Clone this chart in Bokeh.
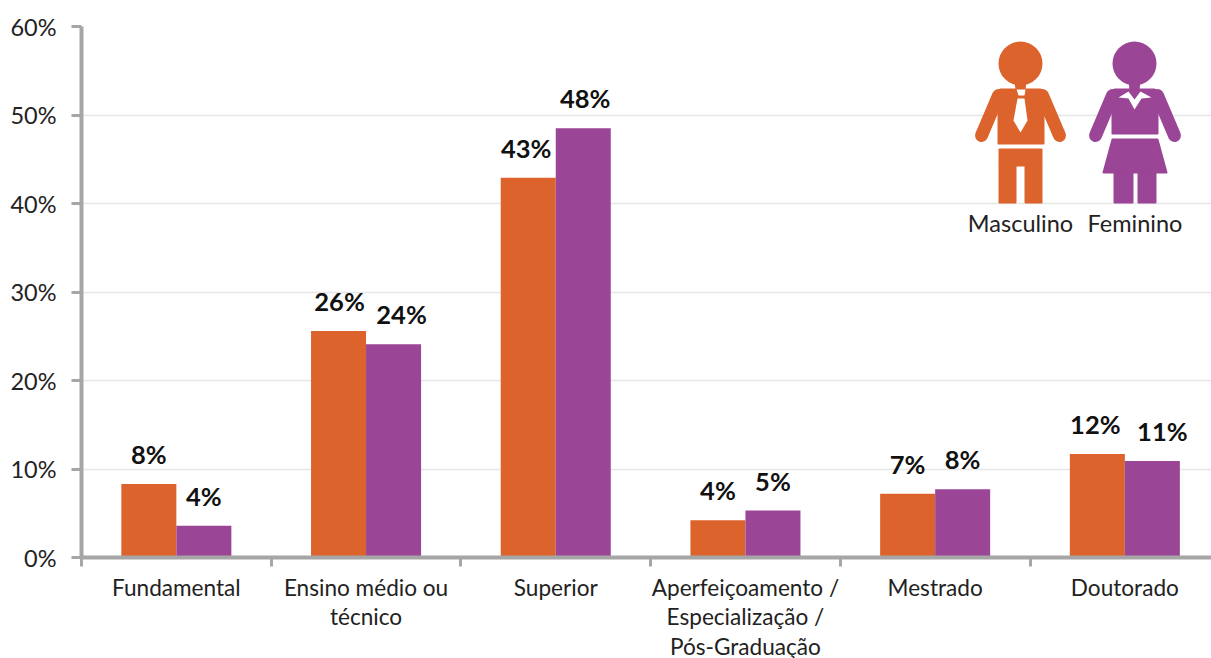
from bokeh.core.properties import value
from bokeh.embed import file_html
from bokeh.models import ColumnDataSource, FixedTicker, Range1d
from bokeh.plotting import figure
from bokeh.resources import INLINE

# Highest schooling level by sex, in percent
categories = [
    "Fundamental",
    "Ensino médio ou\ntécnico",
    "Superior",
    "Aperfeiçoamento /\nEspecialização /\nPós-Graduação",
    "Mestrado",
    "Doutorado",
]
masculino = [8.3, 25.6, 42.9, 4.2, 7.2, 11.7]
feminino = [3.6, 24.1, 48.49, 5.3, 7.7, 10.9]
y_ticks = [0, 10, 20, 30, 40, 50, 60]

ORANGE = "#dc632c"
PURPLE = "#9b4596"
FONT = "Lato"
AXIS_GRAY = "#a6a6a6"
TEXT = "#222222"

LEFT, TOP, FRAME_W, FRAME_H = 81, 26, 1130, 531
CAT_W = 189.7
BAR_W = 0.29

p = figure(
    width=1211, height=658, output_backend="svg", toolbar_location=None,
    x_range=Range1d(0, FRAME_W / CAT_W), y_range=Range1d(0, 60),
    min_border_left=LEFT, min_border_right=0, min_border_top=TOP, min_border_bottom=658 - TOP - FRAME_H,
    frame_width=FRAME_W, frame_height=FRAME_H,
)
p.outline_line_color = None
p.background_fill_color = "white"
p.border_fill_color = "white"

# Value axis
ya = p.yaxis[0]
ya.ticker = FixedTicker(ticks=y_ticks)
ya.major_label_overrides = {t: f"{t}%" for t in y_ticks}
ya.axis_line_color = AXIS_GRAY
ya.axis_line_width = 4
ya.major_tick_line_color = AXIS_GRAY
ya.major_tick_line_width = 3
ya.major_tick_in = 0
ya.major_tick_out = 10
ya.minor_tick_line_color = None
ya.major_label_standoff = 15
ya.major_label_text_font = FONT
ya.major_label_text_font_size = "23.5px"
ya.major_label_text_color = TEXT

# Category axis: labels at group centres, tick marks on group boundaries
centres = [i + 0.5 for i in range(len(categories))]
boundaries = list(range(len(categories) + 1))
xa = p.xaxis[0]
xa.ticker = FixedTicker(ticks=centres, minor_ticks=boundaries)
xa.major_label_overrides = dict(zip(centres, categories))
xa.axis_line_color = AXIS_GRAY
xa.axis_line_width = 4
xa.major_tick_line_color = None
xa.major_tick_in = 0
xa.major_tick_out = 0
xa.minor_tick_line_color = AXIS_GRAY
xa.minor_tick_line_width = 3
xa.minor_tick_in = 0
xa.minor_tick_out = 9
xa.major_label_standoff = 7
xa.major_label_text_font = FONT
xa.major_label_text_font_size = "22.6px"
xa.major_label_text_color = TEXT
xa.major_label_text_line_height = 1.1

p.xgrid.visible = False
p.ygrid.ticker = FixedTicker(ticks=y_ticks)
p.ygrid.grid_line_color = "#e6e6e6"
p.ygrid.grid_line_width = 1.5

# Paired bars and their value labels; a few labels sit right of centre to clear the taller neighbour
label_nudges = {
    "m": [0, 1, -2, 0, 0, -2],
    "f": [0, 8, 2, 0, 0, 10],
}
for key, series, colour, shift in (("m", masculino, ORANGE, -BAR_W / 2), ("f", feminino, PURPLE, BAR_W / 2)):
    src = ColumnDataSource(dict(
        x=[c + shift for c in centres],
        top=series,
        label=[f"{round(v)}%" for v in series],
        nudge=label_nudges[key],
    ))
    p.vbar(x="x", top="top", bottom=0, width=BAR_W, source=src, fill_color=colour, line_color=None)
    p.text(x="x", y="top", text="label", source=src, text_align="center", text_baseline="bottom",
           x_offset="nudge", y_offset=-15, text_font=value(FONT), text_font_style="bold",
           text_font_size="25.5px", text_color="#111111")


# Pictogram legend, laid out in page pixels
def dx(px):
    return (px - LEFT) / CAT_W


def dy(py):
    return (TOP + FRAME_H - py) / FRAME_H * 60


def shape(points, colour, rounded=True):
    p.patch([dx(a) for a, _ in points], [dy(b) for _, b in points], fill_color=colour,
            line_color=colour if rounded else None, line_width=2, line_join="round")


def limb(points, colour):
    p.line([dx(a) for a, _ in points], [dy(b) for _, b in points], line_color=colour,
           line_width=13, line_cap="round", line_join="round")


def head(cx, colour):
    p.scatter([dx(cx)], [dy(63)], size=44, marker="circle", fill_color=colour, line_color=None)
    shape([(cx - 5, 80), (cx + 5, 80), (cx + 4, 90), (cx - 4, 90)], colour)


# Masculino
head(1020, ORANGE)
shape([(1000, 89), (1040, 89), (1043, 92), (1043, 143), (998, 143), (998, 92)], ORANGE)
limb([(998, 95), (981, 135)], ORANGE)
limb([(1042, 95), (1059, 135)], ORANGE)
shape([(999, 149), (1041, 149), (1041, 202), (1025, 202), (1025, 165), (1015, 165), (1015, 202), (999, 202)], ORANGE)
shape([(1016, 89), (1025, 89), (1024, 95), (1018, 95)], "white", rounded=False)
shape([(1017, 98), (1024, 98), (1027, 120), (1020, 132), (1013, 120)], "white", rounded=False)

# Feminino
head(1134, PURPLE)
shape([(1114, 89), (1154, 89), (1157, 92), (1157, 133), (1112, 133), (1112, 92)], PURPLE)
limb([(1112, 95), (1095, 135)], PURPLE)
limb([(1157, 95), (1174, 135)], PURPLE)
shape([(1112, 139), (1157, 139), (1166, 172), (1103, 172)], PURPLE)
shape([(1114, 172), (1132, 172), (1132, 202), (1114, 202)], PURPLE)
shape([(1138, 172), (1155, 172), (1155, 202), (1138, 202)], PURPLE)
shape([(1118, 97), (1128, 91), (1134, 99), (1140, 91), (1151, 97), (1141, 98), (1134, 109), (1128, 98)], "white", rounded=False)

p.text(x=[dx(1020), dx(1134.5)], y=[dy(222), dy(222)], text=["Masculino", "Feminino"],
       text_align="center", text_baseline="middle", text_font=value(FONT),
       text_font_size="23.5px", text_color=TEXT)

open("out.html", "w").write(file_html(p, INLINE))
